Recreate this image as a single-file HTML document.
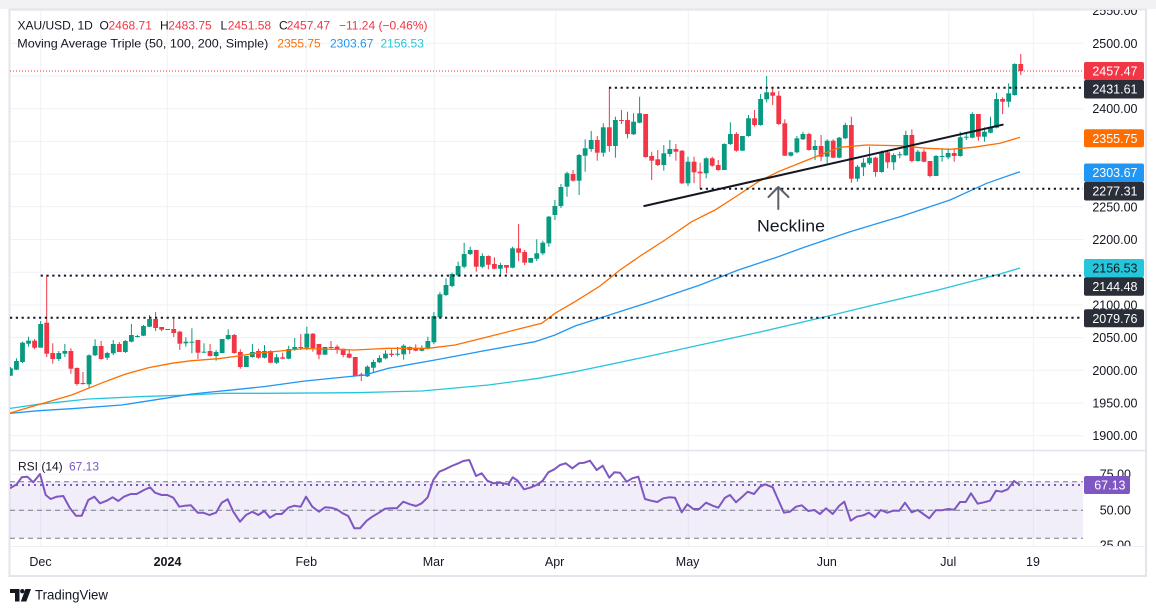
<!DOCTYPE html>
<html><head><meta charset="utf-8">
<style>
html,body{margin:0;padding:0;background:#fff;}
svg{display:block;font-family:"Liberation Sans",Arial,sans-serif;}
</style></head>
<body>
<svg id="s" width="1156" height="613" viewBox="0 0 1156 613" xmlns="http://www.w3.org/2000/svg">
<defs>
<clipPath id="main"><rect x="10" y="10" width="1073" height="440"/></clipPath>
<clipPath id="rsi"><rect x="10" y="451" width="1073" height="95"/></clipPath>
<clipPath id="axtop"><rect x="1083" y="10" width="63" height="440"/></clipPath>
<clipPath id="axrsi"><rect x="1083" y="451" width="63" height="95"/></clipPath>
</defs>
<rect x="0" y="0" width="1156" height="9" fill="#f2f2f5"/>
<rect x="9.5" y="9.5" width="1136.5" height="566.5" fill="#fff" stroke="#e4e5ec" stroke-width="2"/>
<g id="grid"></g>
<g id="rsig" clip-path="url(#rsi)"></g>
<g id="maing" clip-path="url(#main)"></g>

<!-- separators -->
<line x1="10" y1="450.5" x2="1146" y2="450.5" stroke="#e0e3eb" stroke-width="1.5"/>
<line x1="10" y1="546.5" x2="1146" y2="546.5" stroke="#eceef3" stroke-width="1"/>

<!-- header legend -->
<g font-size="12" fill="#131722">
<text x="17.5" y="29.3">XAU/USD, 1D</text>
<text x="99.5" y="29.3">O</text><text x="108.5" y="29.3" fill="#f23645">2468.71</text>
<text x="160" y="29.3">H</text><text x="168.3" y="29.3" fill="#f23645">2483.75</text>
<text x="220.5" y="29.3">L</text><text x="227.7" y="29.3" fill="#f23645">2451.58</text>
<text x="279" y="29.3">C</text><text x="286.7" y="29.3" fill="#f23645">2457.47</text>
<text x="339" y="29.3" fill="#f23645">−11.24 (−0.46%)</text>
<text x="17.3" y="47.5" textLength="251" lengthAdjust="spacingAndGlyphs">Moving Average Triple (50, 100, 200, Simple)</text>
<text x="277.3" y="47.5" fill="#ff6d00">2355.75</text>
<text x="330" y="47.5" fill="#2196f3">2303.67</text>
<text x="380.5" y="47.5" fill="#26c6da">2156.53</text>
<text x="18" y="470.7">RSI (14)</text>
<text x="69" y="470.7" fill="#7e57c2">67.13</text>
</g>

<!-- neckline annotation -->
<text x="757" y="231.5" font-size="16.5" fill="#131722" textLength="68" lengthAdjust="spacingAndGlyphs">Neckline</text>
<g stroke="#5d606b" stroke-width="2" fill="none" stroke-linecap="round" stroke-linejoin="round">
<line x1="778.3" y1="209" x2="778.3" y2="187.5"/>
<polyline points="768.5,197 778.3,187 788.5,197"/>
</g>

<!-- price axis labels -->
<g clip-path="url(#axtop)" font-size="12.5" fill="#131722" text-anchor="end">
<text x="1137.5" y="15">2550.00</text>
<text x="1137.5" y="47.8">2500.00</text>
<text x="1137.5" y="113.1">2400.00</text>
<text x="1137.5" y="211.5">2250.00</text>
<text x="1137.5" y="244">2200.00</text>
<text x="1137.5" y="309.4">2100.00</text>
<text x="1137.5" y="342">2050.00</text>
<text x="1137.5" y="374.8">2000.00</text>
<text x="1137.5" y="407.5">1950.00</text>
<text x="1137.5" y="440.2">1900.00</text>
</g>
<g font-size="12.5" text-anchor="end">
<rect x="1084" y="62" width="60" height="18" rx="2" fill="#f23645"/><text x="1137.5" y="75.5" fill="#fff">2457.47</text>
<rect x="1084" y="80" width="60" height="18.5" rx="2" fill="#2a2e39"/><text x="1137.5" y="93.5" fill="#fff">2431.61</text>
<rect x="1084" y="129.3" width="60" height="18" rx="2" fill="#ff6d00"/><text x="1137.5" y="142.8" fill="#fff">2355.75</text>
<rect x="1084" y="163.5" width="60" height="18.5" rx="2" fill="#2196f3"/><text x="1137.5" y="177" fill="#fff">2303.67</text>
<rect x="1084" y="182" width="60" height="18.5" rx="2" fill="#2a2e39"/><text x="1137.5" y="195.5" fill="#fff">2277.31</text>
<rect x="1084" y="259" width="60" height="18.3" rx="2" fill="#26c6da"/><text x="1137.5" y="272.6" fill="#131722">2156.53</text>
<rect x="1084" y="277.3" width="60" height="18.5" rx="2" fill="#2a2e39"/><text x="1137.5" y="290.8" fill="#fff">2144.48</text>
<rect x="1084" y="309.3" width="60" height="18" rx="2" fill="#2a2e39"/><text x="1137.5" y="322.8" fill="#fff">2079.76</text>
</g>

<!-- rsi axis labels -->
<g clip-path="url(#axrsi)" font-size="12.5" fill="#131722" text-anchor="end">
<text x="1131" y="478.5">75.00</text>
<text x="1131" y="514.6">50.00</text>
<text x="1131" y="549.5">25.00</text>
</g>
<rect x="1084" y="476" width="46" height="18" rx="2" fill="#7e57c2"/>
<text x="1125.5" y="489.5" font-size="12.5" fill="#fff" text-anchor="end">67.13</text>

<!-- time axis -->
<g font-size="12.5" fill="#131722" text-anchor="middle">
<text x="40.5" y="566">Dec</text>
<text x="167.5" y="566" font-weight="bold">2024</text>
<text x="306.3" y="566">Feb</text>
<text x="433.5" y="566">Mar</text>
<text x="554.6" y="566">Apr</text>
<text x="687.6" y="566">May</text>
<text x="826.8" y="566">Jun</text>
<text x="948.3" y="566">Jul</text>
<text x="1033" y="566">19</text>
</g>

<!-- TradingView logo -->
<g fill="#131722">
<path d="M10,589 H19.5 V601.5 H15 V593 H10 Z"/>
<circle cx="22.3" cy="591.2" r="2.2"/>
<path d="M25.5,589 H31 L26.3,601.5 H20.8 Z"/>
</g>
<text x="35" y="599.3" font-size="14" fill="#131722" textLength="73" lengthAdjust="spacingAndGlyphs">TradingView</text>

<script>
(function(){
const NS='http://www.w3.org/2000/svg';
function el(tag,a,p){const e=document.createElementNS(NS,tag);for(const k in a)e.setAttribute(k,a[k]);p.appendChild(e);return e;}
const Y=p=>43.3+(2500-p)*0.654;
const grid=document.getElementById('grid');
for(let p=1900;p<=2550;p+=50){const y=Y(p);el('line',{x1:10,x2:1083,y1:y,y2:y,stroke:'#f0f1f5','stroke-width':1},grid);}
[40.7,167.3,306.3,434.3,555.7,688.3,827.7,948.7,1033.3].forEach(x=>el('line',{x1:x,x2:x,y1:10,y2:546,stroke:'#f0f1f5','stroke-width':1},grid));
[474.2,510.3].forEach(y=>el('line',{x1:10,x2:1083,y1:y,y2:y,stroke:'#f0f1f5','stroke-width':1},grid));

// RSI
const r=document.getElementById('rsig');
el('rect',{x:10,y:481.7,width:1073,height:56.6,fill:'rgba(126,87,194,0.1)'},r);
[481.7,510.3,538.3].forEach(y=>el('line',{x1:10,x2:1083,y1:y,y2:y,stroke:'#787b86','stroke-width':1,'stroke-dasharray':'5 4'},r));
el('line',{x1:10,x2:1083,y1:485,y2:485,stroke:'#7e57c2','stroke-width':2,'stroke-dasharray':'2 4'},r);
const rsiPts="10,488.3 16.7,484.3 21.7,477.3 27.3,476.7 33.3,482.3 40,474 45.7,495 50.7,499 56.7,496.7 63.3,496 70,508.3 76,515.7 81.7,515.7 88.3,500 94.3,496.7 100,503.3 106.7,500.7 112.7,497.3 118.3,501 124,496.7 130.7,494 136.7,494 144,490 150,487.3 155,492.7 161.7,495 167.3,495 173.3,497.7 179.3,506.7 185,505.7 191,505.3 197.7,512.7 203.3,512.7 209.3,515 216,512.7 221.7,502.7 227.7,499.3 233.3,511.7 240,521.7 246,515 252.3,511.7 258.3,515 264.3,511 270,517.7 276,514 281.7,514 288.3,507.7 294.3,505.7 300.7,506.7 306,496.7 312.3,506.7 319,511.7 325,507.3 331,507.7 336.7,509.3 342.7,513.3 348.3,516 354.3,528.3 360,528.3 366.7,520.7 372.3,516.7 379,512.7 385,508.7 390.7,508.3 396.7,508.3 403.3,501.7 410,504.3 416,506 421.7,503.3 427.7,497.3 433.3,480 439.3,471.7 445,469.3 451.7,466 458.3,463.3 463.3,461 469.3,460 476,476 481.7,473.3 487.3,480.7 493.3,483.3 500,482.7 508.3,484.3 512.7,477.3 517.7,480.7 524,489.3 530,487.7 536.7,485 542.7,480.7 548.3,472.3 554.3,469.3 560,465 565.7,463.3 572.3,468.3 579,463.3 584.3,462.7 590,460.7 596.7,470 602.7,465.7 609.3,477.7 614.3,472.3 620,472.7 626.7,481.7 632.3,478.3 638.3,476.7 645,499 651,500.7 657.3,502 663.3,498.3 669.3,497.3 675,497.7 681.7,512.3 687.3,504.3 693.3,509 699.3,509 706,502.7 712.7,505.7 718.3,507.7 725,497.7 730,495 736,502.3 742.3,496.7 747.7,491.7 754,494 760,486.7 765,484.3 772.7,487.3 778.3,500 784,512.7 790,511.7 796,506.7 801.7,505.3 808.3,511 814.3,510 820,514 826,508.3 832.7,514 839,506 844.3,501.7 850.7,520.7 856.7,516.7 863.3,515.3 869,512.7 875,517.3 880.7,510 887.3,512.7 893.3,510.7 899.3,510.7 905,502.7 911.7,512.3 917.7,510 923.3,514 929.3,518.3 935.7,510.3 941.7,510.3 948.3,509 954.3,509.7 960,502 965.7,502 971,493.3 977.7,503.7 984,502.3 990,500.7 996,490.7 1001.7,491.7 1007.7,489.3 1014,481 1020,485";
el('polyline',{points:rsiPts,fill:'none',stroke:'#7e57c2','stroke-width':2,'stroke-linejoin':'round'},r);

// main pane
const m=document.getElementById('maing');
el('line',{x1:10,x2:1083,y1:71,y2:71,stroke:'#f23645','stroke-width':1,'stroke-dasharray':'1 2'},m);
const D=[
[1,367,368.3,375.7,376],[1,358.3,361,369.7,370],[1,341.7,342.7,362,363],[1,336.7,340.7,343.7,346.7],[0,339,340.7,347.7,349.3],
[1,321,324,347.7,347.7],[0,275.3,322.7,353.7,357],[0,343.3,353,359,363.7],[1,351,353,359,361],[1,344,351,353.7,357],
[0,348.3,351,368.7,373.7],[0,367.3,368,384,385.7],[0,372,383,384,384.7],[1,354.3,355.3,384.3,387.7],[1,339.3,346,355.3,356],
[0,341,346,359,359.7],[1,351.7,353,357.7,360],[1,340,344,353.3,355],[0,342,344,352,352],[1,340,341,352,353],
[1,324,335,341.7,342.3],[1,335,336,337,337.5],[1,325,326,335.7,336],[1,315,319,326.7,327],[0,312,319,328,331],
[0,327,327,329.7,331.3],[1,329,329,330,330],[0,319,329,333,337],[0,330.7,331.7,343.7,350],[1,337.3,341.7,343.3,346.7],
[1,328.3,341.7,342.3,353.3],[0,340,340,352.7,359],[1,343.3,351.7,352.7,352.7],[0,344,351,356,356.7],[1,350,352,356,360.7],
[1,339,339,353,353],[1,329.3,335,339,340],[0,334,335,353,353.7],[0,349.3,352,367,368.7],[1,356,356,367,367],
[1,344,352,357,357.7],[0,348.7,351,357.7,358.7],[1,345,351,357.7,358.3],[0,350.3,351,362.7,363.3],[1,354,357.3,362.7,364],
[0,352.7,357.3,358.7,359.3],[1,345.7,349,358.7,359.3],[1,338,347,349,350.7],[0,334,347,348,350],[1,326.7,333.7,347.7,350],
[0,333,333.7,348,351.7],[0,344,344,354.7,359.3],[1,347,347,354.7,354.7],[0,341,347,348,349.3],[0,344.7,346.7,349.3,353.7],
[0,348.7,348.7,355,357.3],[0,350,353.7,357.7,358.3],[0,357,357,375.7,376],[0,372.7,374.3,376,381],[1,365.3,366.7,376.3,377],
[1,359.7,362,367.7,372.3],[1,355.3,358,362.3,363],[1,350.3,353.7,358.3,359.3],[0,349.3,353.7,355,357],[1,347,353.7,354.3,356.3],
[1,344.3,345.7,354.3,359.7],[0,346.3,347,350,354],[0,344.3,348,350.7,351.3],[1,345.3,348,350.7,351.3],[1,336.7,341,348.7,349.3],
[1,312,316,342.3,344.3],[1,292,294.3,317.3,317.3],[1,278.3,285,295,296],[1,272.7,274,286,287.3],[1,261.7,266,275.3,276.7],
[1,242.7,254,266.7,268.3],[1,246.7,250,254,255],[0,250,250,266.7,271.7],[1,253.3,256,266.7,268.3],[0,255.3,256,264.7,269.3],
[0,257.3,264,268.7,269.3],[1,262.7,265,268.7,275],[0,265,265,267.7,273.3],[1,246.7,248.3,267.7,268.3],[0,224,248.3,252.7,261],
[0,250,252,262.7,265],[1,258,258,262.7,262.7],[1,239.3,253.3,258.7,261],[1,240.7,242.7,253.3,255],[1,216,216.7,243.3,246.7],
[1,200,206,215,220],[1,184,187,206,208],[1,171.7,173.3,186.7,196.7],[0,170,174,180.7,181.7],[1,154,155,180.7,195],
[1,139.3,148.3,155.7,171.7],[1,131,140,149,151.7],[0,136,140,152.7,160.7],[1,123.3,127.3,152.7,156.7],[0,87.3,127.3,146,151.7],
[1,116.7,120,146,157.7],[0,110,120,121,124],[0,111.7,120,134,138.3],[1,113.3,121.7,134.3,135],[1,96.7,113.3,122.7,123.3],
[0,114,114,157,157.7],[0,151.7,156,160.7,180],[0,150,159.3,165,166],[1,145,153.3,165,170.7],[1,140,149,154,156.7],
[0,144,149,151.7,160.7],[0,150,150.7,183.3,184],[1,156.7,161.7,183.3,186],[0,156.7,161.7,172.3,183.3],[0,162.7,171.7,173.3,189.3],
[1,157.3,158.3,173.3,178.3],[0,156.7,158.3,165.7,166.7],[0,160,165,170,170.7],[1,143.3,144,170,170],[1,122.3,134,144,145],
[0,132.3,134,150.7,151.7],[1,136,136,150.7,150.7],[1,115,118.3,136,136.7],[0,110,118.3,125,126.7],[1,94,99,125,125.7],
[1,76,92.3,99.3,102.3],[0,87.3,92.3,95.7,105],[0,91,95.7,124,125],[0,119.3,123.3,155.7,156],[1,151.7,152.3,155.7,156.7],
[1,136,138.3,152.3,153.3],[1,131.7,134,139.3,140],[0,132.7,134,150,150.7],[1,140,146,150,160],[0,135,146,156.7,161],
[1,139.3,140.7,156.7,163.3],[0,139.3,140.7,157.7,158.3],[1,137,137.7,157.7,158.3],[1,122.7,125,138.3,139.3],[0,116.7,125,178.7,182.7],
[1,165,166.7,178.7,181.7],[1,158.3,162.7,167.3,176],[1,146.7,157.7,163.3,165],[0,156.7,157.7,172,176.7],[1,150.7,152.3,172,172.7],
[0,151,152.3,162.3,168.3],[1,153.3,155,162.3,170],[1,151.7,154.3,155.3,158.3],[1,130.7,135,155.3,156],[0,129.3,135,161,162.3],
[1,150,151.7,161,161.7],[0,149.3,151.7,161.7,162.3],[0,161,161,176,177.3],[1,155,156,176,176],[1,148.3,156,156.7,161.7],
[1,148.3,153,157.3,159.3],[0,149,153,156,161.7],[1,131.7,137.3,156,156.7],[1,133.3,136.7,137.3,140],[1,112.3,114,137.7,138.3],
[0,114,114,136.7,140.7],[1,127.3,131.7,136.7,141.7],[1,116.7,127.7,132.7,133.3],[1,92.7,99,127.7,128.3],[0,97.3,99,101.7,114],
[1,83.3,93.3,101.7,107.3],[1,63.3,64,95,95.7],[0,54,64,71,75]];
const G='#089981',R='#f23645';
D.forEach((d,i)=>{
 const x=10.4+6.05*i, c=d[0]?G:R;
 el('rect',{x:x-0.5,y:d[1],width:1,height:Math.max(0.5,d[4]-d[1]),fill:c},m);
 el('rect',{x:x-2.4,y:d[2],width:4.8,height:Math.max(1,d[3]-d[2]),fill:c},m);
});
// moving averages
const cyan="9,408.5 38.3,404.3 88.3,399 138.3,396.7 188.3,395 221.7,393.3 265,393.3 355,392.7 421.7,391 488.3,385 538.3,378.3 575,371.7 650,356 700,345 760,332 820,318 880,303.5 940,289.5 1000,274 1020,268";
const blue="9,413.5 38.3,410.7 71.7,408.7 121.7,405 165,398.3 191.7,394 238.3,389.3 265,386.5 305,381 365,375 388.3,368.3 435,360 488.3,350 535,341.7 555,335 575,326 600,318 650,302 700,285 738.3,270 778.3,256.7 805,247 850,231.7 900,216.7 950,200 986.7,183.3 1020,171.7";
const orange="9,413.3 11,412.7 40.7,404 71.7,395 88.3,388.3 105,381.7 125,374.3 148.3,367.7 171.7,363.3 191.7,360.7 218.3,358.7 238.3,356 255,353.3 265,352.5 305,348.5 355,350 388.3,348.3 428.3,348.3 455,345 488.3,336.7 521.7,328.3 541.7,323.3 555,313.3 575,301.7 600,286 620,270 641.7,255 665,240 691.7,221.7 715,210 738.3,195 758.3,181.7 778.3,171.7 805,161 820,155 840,147.3 866.7,145 900,145.7 926.7,148.3 950,149.3 973.3,147.3 1000,143.3 1020,137.3";
el('polyline',{points:cyan,fill:'none',stroke:'#26c6da','stroke-width':1.3},m);
el('polyline',{points:blue,fill:'none',stroke:'#2196f3','stroke-width':1.3},m);
el('polyline',{points:orange,fill:'none',stroke:'#ff6d00','stroke-width':1.3},m);
// dotted horizontal drawings
[[609,87.8],[700,188.8],[40.7,275.6],[10,317.8]].forEach(a=>el('line',{x1:a[0],x2:1083,y1:a[1],y2:a[1],stroke:'#131722','stroke-width':2,'stroke-dasharray':'2.2 3.6'},m));
// trendline
el('line',{x1:644.3,y1:206,x2:1002.7,y2:124.7,stroke:'#131722','stroke-width':2,'stroke-linecap':'round'},m);
})();
</script>
</svg>
</body></html>
